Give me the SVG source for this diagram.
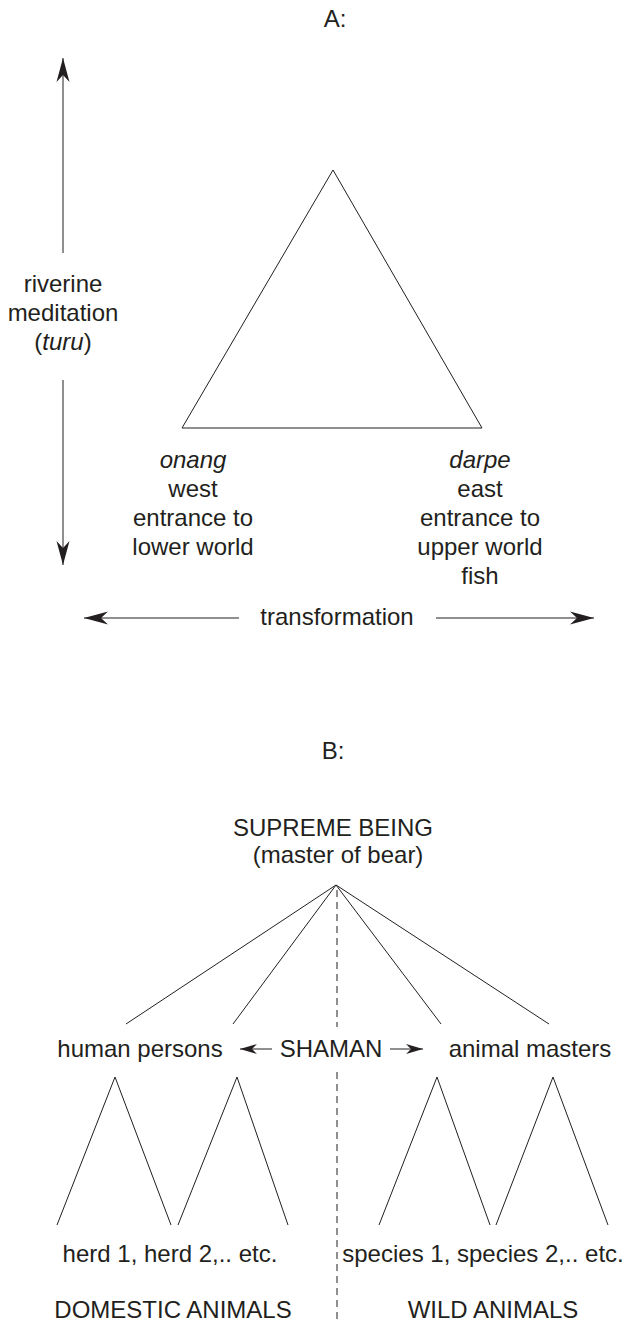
<svg xmlns="http://www.w3.org/2000/svg" width="638" height="1323" viewBox="0 0 638 1323">
  <style>
    text { font-family: "Liberation Sans", Arial, Helvetica, sans-serif; font-size: 24px; fill: #231f20; text-anchor: middle; }
    .it { font-style: italic; }
    .ln { stroke: #231f20; stroke-width: 1; fill: none; }
    .dash { stroke: #231f20; stroke-width: 1; fill: none; stroke-dasharray: 7 5; }
  </style>
  <defs>
    <marker id="big" viewBox="-25 -7 26 14" refX="0" refY="0" markerWidth="26" markerHeight="14" markerUnits="userSpaceOnUse" orient="auto">
      <path d="M0,0 L-24,-6.5 L-17,0 L-24,6.5 Z" fill="#231f20"/>
    </marker>
    <marker id="small" viewBox="-18 -6 19 12" refX="0" refY="0" markerWidth="19" markerHeight="12" markerUnits="userSpaceOnUse" orient="auto">
      <path d="M0,0 L-17,-5 L-12,0 L-17,5 Z" fill="#231f20"/>
    </marker>
  </defs>

  <!-- Part A -->
  <g id="labelA"><text x="335" y="27">A:</text></g>
  <g id="triangle"><polygon class="ln" points="333,170 182,428 482,428"/></g>
  <g id="riverine">
    <text x="63" y="292">riverine</text>
    <text x="63" y="321">meditation</text>
    <text x="63" y="350">(<tspan class="it">turu</tspan>)</text>
  </g>
  <g id="onang">
    <text x="193" y="468" class="it">onang</text>
    <text x="193" y="497">west</text>
    <text x="193" y="526">entrance to</text>
    <text x="193" y="555">lower world</text>
  </g>
  <g id="darpe">
    <text x="480" y="468" class="it">darpe</text>
    <text x="480" y="497">east</text>
    <text x="480" y="526">entrance to</text>
    <text x="480" y="555">upper world</text>
    <text x="480" y="584">fish</text>
  </g>
  <g id="transformation"><text x="337" y="625">transformation</text></g>

  <!-- Part B -->
  <g id="labelB"><text x="333" y="759">B:</text></g>
  <g id="supreme">
    <text x="333" y="836">SUPREME BEING</text>
    <text x="338" y="863">(master of bear)</text>
  </g>
  <g id="human"><text x="140" y="1057">human persons</text></g>
  <g id="shaman"><text x="331" y="1057">SHAMAN</text></g>
  <g id="animalmasters"><text x="530" y="1057">animal masters</text></g>
  <g id="herds"><text x="170" y="1262">herd 1, herd 2,.. etc.</text></g>
  <g id="species"><text x="483" y="1262">species 1, species 2,.. etc.</text></g>
  <g id="domestic"><text x="173" y="1318">DOMESTIC ANIMALS</text></g>
  <g id="wild"><text x="493" y="1318">WILD ANIMALS</text></g>

  <g id="connectors">
    <line class="ln" x1="63" y1="253" x2="63" y2="58" marker-end="url(#big)"/>
    <line class="ln" x1="63" y1="380" x2="63" y2="565" marker-end="url(#big)"/>
    <line class="ln" x1="239" y1="618" x2="84" y2="618" marker-end="url(#big)"/>
    <line class="ln" x1="436" y1="618" x2="594" y2="618" marker-end="url(#big)"/>

    <line class="ln" x1="336" y1="885" x2="126" y2="1024"/>
    <line class="ln" x1="336" y1="885" x2="233" y2="1024"/>
    <line class="ln" x1="336" y1="885" x2="441" y2="1024"/>
    <line class="ln" x1="336" y1="885" x2="549" y2="1024"/>
    <line class="dash" x1="337" y1="890" x2="337" y2="1027"/>
    <line class="dash" x1="337" y1="1072" x2="337" y2="1320"/>

    <line class="ln" x1="272" y1="1049" x2="240" y2="1049" marker-end="url(#small)"/>
    <line class="ln" x1="390" y1="1049" x2="423" y2="1049" marker-end="url(#small)"/>

    <polyline class="ln" points="57,1225 115,1077 171,1225"/>
    <polyline class="ln" points="178,1225 237,1077 288,1225"/>
    <polyline class="ln" points="379,1225 437,1077 490,1225"/>
    <polyline class="ln" points="496,1225 553,1077 608,1225"/>
  </g>
</svg>
